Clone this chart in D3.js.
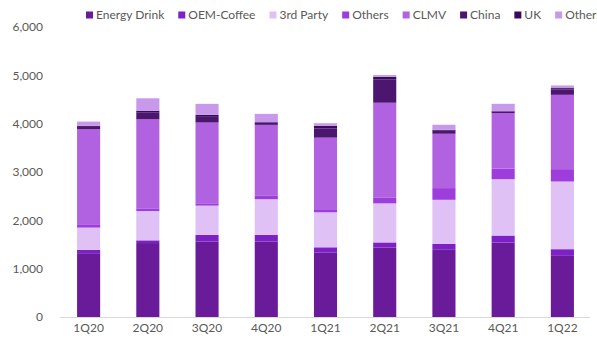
<!DOCTYPE html>
<html>
<head>
<meta charset="utf-8">
<script src="https://cdn.jsdelivr.net/npm/d3@7"></script>
<style>
  body { margin: 0; background: #fff; }
  svg { display: block; font-family: Lato, "Open Sans", sans-serif; }
</style>
</head>
<body>
<div id="chart"></div>
<script>
// quarters on the x axis
var quarters = ["1Q20", "2Q20", "3Q20", "4Q20", "1Q21", "2Q21", "3Q21", "4Q21", "1Q22"];

// series, bottom to top of each stack
var seriesNames = ["Energy Drink", "OEM-Coffee", "3rd Party", "Others", "CLMV", "China", "UK", "Others"];

var energyDrink = [1320, 1530, 1560, 1560, 1330, 1440, 1390, 1540, 1265];
var oemCoffee   = [70, 56, 138, 138, 112, 103, 124, 145, 138];
var thirdParty  = [460, 606, 607, 739, 724, 808, 911, 1167, 1400];
var othersDom   = [55, 56, 35, 69, 48, 124, 242, 220, 256];
var clmv        = [1980, 1842, 1683, 1469, 1497, 1958, 1124, 1147, 1538];
var china       = [49, 138, 119, 41, 192, 478, 63, 31, 109];
var uk          = [20, 40, 40, 15, 50, 60, 20, 10, 30];
var othersIntl  = [89, 257, 228, 172, 56, 35, 103, 151, 54];

var yTicks = [0, 1000, 2000, 3000, 4000, 5000, 6000];

var colors = ["#6a1b9a", "#7d21c6", "#e0c1f5", "#9c3ddc", "#b062e0", "#4b1570", "#3a0a5a", "#c898ea"];

var seriesValues = [energyDrink, oemCoffee, thirdParty, othersDom, clmv, china, uk, othersIntl];

var width = 597, height = 340;
var margin = { top: 27, right: 5, bottom: 23, left: 59 };

var rows = quarters.map(function (q, i) {
  var row = { quarter: q };
  seriesValues.forEach(function (vals, k) { row["s" + k] = vals[i]; });
  return row;
});
var keys = seriesValues.map(function (v, k) { return "s" + k; });

var stacked = d3.stack().keys(keys)(rows);

var svg = d3.select("#chart")
  .append("svg")
  .attr("width", width)
  .attr("height", height);

var x = d3.scaleBand()
  .domain(quarters)
  .range([margin.left, width - margin.right])
  .paddingInner(0.61)
  .paddingOuter(0.305);

var y = d3.scaleLinear()
  .domain([0, 6000])
  .range([height - margin.bottom, margin.top]);

// bars
svg.append("g")
  .selectAll("g")
  .data(stacked)
  .join("g")
  .attr("fill", function (d, i) { return colors[i]; })
  .selectAll("rect")
  .data(function (d) { return d; })
  .join("rect")
  .attr("x", function (d) { return x(d.data.quarter); })
  .attr("y", function (d) { return y(d[1]); })
  .attr("width", x.bandwidth())
  .attr("height", function (d) { return y(d[0]) - y(d[1]); });

// y axis labels (no line)
var yAxis = svg.append("g")
  .attr("transform", "translate(" + (margin.left - 13) + ",0)")
  .call(d3.axisLeft(y).tickValues(yTicks).tickSize(0).tickFormat(d3.format(",")));
yAxis.select(".domain").remove();
yAxis.selectAll("text")
  .attr("fill", "#595959")
  .attr("font-size", "12px")
  .attr("font-family", "Lato, sans-serif");

// x axis
var xAxis = svg.append("g")
  .attr("transform", "translate(0," + y(0) + ")")
  .call(d3.axisBottom(x).tickSize(0).tickPadding(6));
xAxis.select(".domain")
  .attr("stroke", "#d9d9d9")
  .attr("d", "M" + (margin.left + 1) + ",0.5H" + (width - 7));
xAxis.selectAll("text")
  .attr("fill", "#595959")
  .attr("font-size", "12px")
  .attr("font-family", "Lato, sans-serif");

// legend (runs off the right edge, as in the original)
var legend = svg.append("g").attr("transform", "translate(86,15)");
var lx = 0;
seriesNames.forEach(function (name, i) {
  var item = legend.append("g").attr("transform", "translate(" + lx + ",0)");
  item.append("rect")
    .attr("x", 0).attr("y", -3.5)
    .attr("width", 7).attr("height", 7)
    .attr("fill", colors[i]);
  var t = item.append("text")
    .attr("x", 10)
    .attr("dy", "0.35em")
    .attr("fill", "#595959")
    .attr("font-size", "12px")
    .text(name);
  lx += 10 + t.node().getComputedTextLength() + 14;
});
</script>
</body>
</html>
